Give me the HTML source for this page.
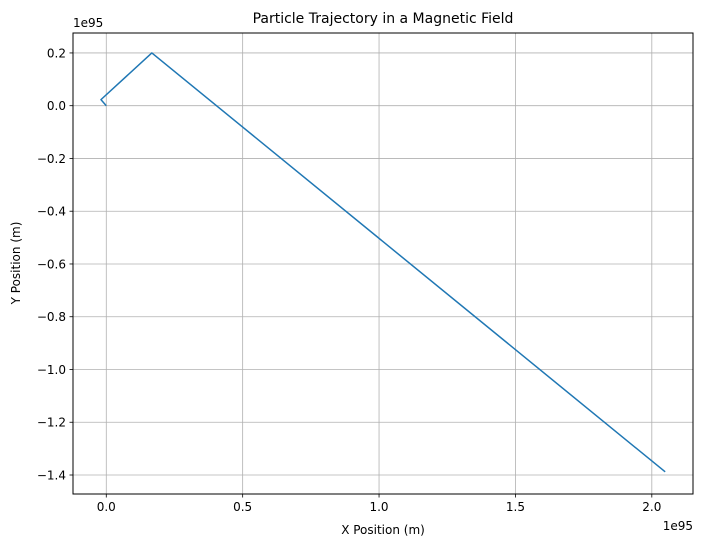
<!DOCTYPE html>
<html><head><meta charset="utf-8"><style>
body{margin:0;background:#fff;}
svg{display:block;font-family:"DejaVu Sans","Liberation Sans",sans-serif;}
</style></head><body>
<svg id="chart" width="702" height="547" viewBox="0 0 702 547" xmlns="http://www.w3.org/2000/svg">
<rect x="0" y="0" width="702" height="547" fill="#fff"/>
<g id="grid"></g>
<g id="ticks"></g>
<polyline id="traj" fill="none" stroke="#1f77b4" stroke-width="1.5" stroke-linejoin="round"/>
<rect x="73" y="33" width="620" height="461" fill="none" stroke="#000" stroke-width="1"/>
<text x="383" y="23" font-size="14" text-anchor="middle">Particle Trajectory in a Magnetic Field</text>
<text x="383" y="534" font-size="12" text-anchor="middle">X Position (m)</text>
<text x="20" y="263" font-size="12" text-anchor="middle" transform="rotate(-90 20 263)">Y Position (m)</text>
<text x="73" y="27" font-size="12">1e95</text>
<text x="693" y="530" font-size="12" text-anchor="end">1e95</text>
</svg>
<script>
const xValues=[0,-0.0195,0.167,2.049];
const yValues=[0,0.023,0.2,-1.388];
const xTicks=[0,0.5,1.0,1.5,2.0];
const xTickLabels=["0.0","0.5","1.0","1.5","2.0"];
const yTicks=[0.2,0,-0.2,-0.4,-0.6,-0.8,-1.0,-1.2,-1.4];
const yTickLabels=["0.2","0.0","\u22120.2","\u22120.4","\u22120.6","\u22120.8","\u22121.0","\u22121.2","\u22121.4"];
const L=73,R=693,T=33,B=494;
const xmin=-0.122,xmax=2.151,ymin=-1.472,ymax=0.2756;
function sx(v){return L+(v-xmin)/(xmax-xmin)*(R-L);}
function sy(v){return B-(v-ymin)/(ymax-ymin)*(B-T);}
const NS="http://www.w3.org/2000/svg";
const grid=document.getElementById('grid'),ticks=document.getElementById('ticks');
function mk(tag,attrs,parent){const e=document.createElementNS(NS,tag);for(const k in attrs)e.setAttribute(k,attrs[k]);parent.appendChild(e);return e;}
xTicks.forEach((v,i)=>{const x=sx(v);
 const g=mk('line',{x1:x,x2:x,y1:T,y2:B,stroke:'#b0b0b0','stroke-width':0.8},grid);
 
 
 const t=mk('line',{x1:x,x2:x,y1:B,y2:B+3.5,stroke:'#000','stroke-width':0.8},ticks);
 
 
 const l=mk('text',{x:x,y:B+17,'font-size':12,'text-anchor':'middle'},ticks);l.textContent=xTickLabels[i];
 
 
});
yTicks.forEach((v,i)=>{const y=sy(v);
 const g=mk('line',{x1:L,x2:R,y1:y,y2:y,stroke:'#b0b0b0','stroke-width':0.8},grid);
 
 
 const t=mk('line',{x1:L-3.5,x2:L,y1:y,y2:y,stroke:'#000','stroke-width':0.8},ticks);
 
 
 const l=mk('text',{x:L-7,y:y+4.5,'font-size':12,'text-anchor':'end'},ticks);l.textContent=yTickLabels[i];
 
 
});
document.getElementById('traj').setAttribute('points',xValues.map((x,i)=>sx(x)+','+sy(yValues[i])).join(' '));
</script>
</body></html>
